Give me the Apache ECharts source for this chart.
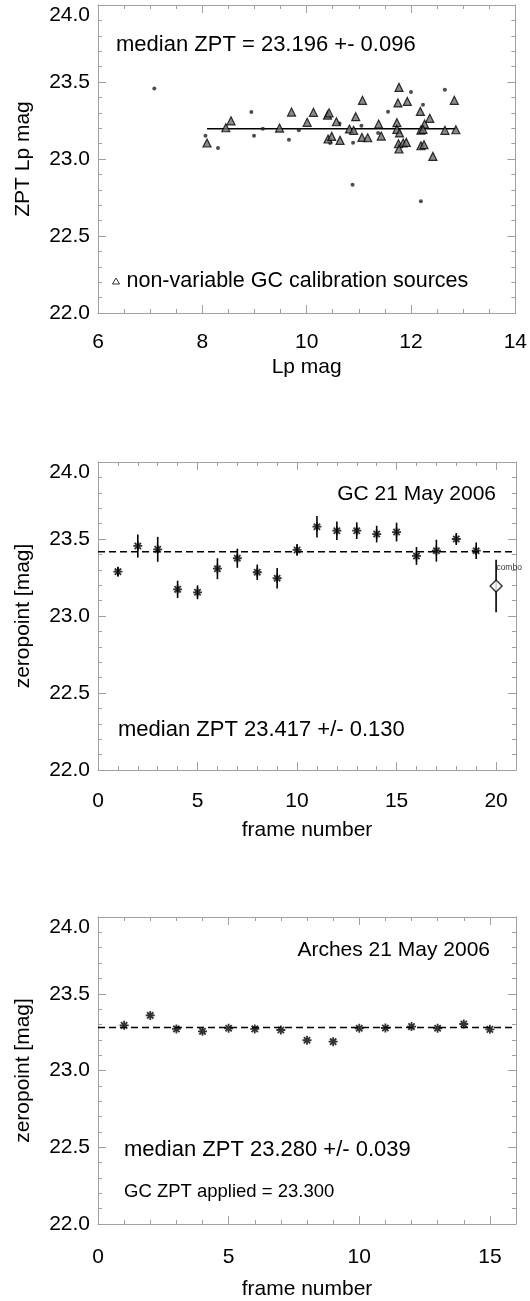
<!DOCTYPE html>
<html>
<head>
<meta charset="utf-8">
<script src="https://cdn.jsdelivr.net/npm/echarts@6/dist/echarts.min.js"></script>
<style>
  html, body { margin: 0; padding: 0; background: #fff; }
  #chart { width: 530px; height: 1301px; }
</style>
</head>
<body>
<div id="chart"></div>
<script>
// ---- Panel 1: zeropoint against Lp magnitude ----
const lpAllSources = [
  [7.08, 23.457], [8.06, 23.151], [8.30, 23.071], [8.94, 23.305], [8.99, 23.151],
  [9.16, 23.197], [9.66, 23.125], [9.85, 23.186], [10.45, 23.104], [10.63, 23.231],
  [10.89, 23.106], [10.88, 22.833], [11.05, 23.216], [11.37, 23.169], [11.56, 23.307],
  [12.00, 23.435], [12.23, 23.352], [12.65, 23.450], [12.19, 22.725]
];
const lpCalibSources = [
  [8.09, 23.104], [8.45, 23.203], [8.55, 23.248], [9.48, 23.201], [9.71, 23.305],
  [10.01, 23.238], [10.13, 23.303], [10.40, 23.285], [10.43, 23.300], [10.41, 23.130],
  [10.48, 23.147], [10.57, 23.242], [10.64, 23.121], [10.82, 23.195], [10.90, 23.186],
  [10.94, 23.275], [11.06, 23.140], [11.07, 23.381], [11.17, 23.138], [11.38, 23.227],
  [11.43, 23.149], [11.73, 23.236], [11.75, 23.364], [11.77, 23.465], [11.93, 23.374],
  [11.73, 23.192], [11.78, 23.169], [11.76, 23.099], [11.85, 23.104], [11.91, 23.108],
  [11.77, 23.065], [12.18, 23.309], [12.36, 23.264], [12.26, 23.227], [12.19, 23.188],
  [12.23, 23.192], [12.19, 23.086], [12.25, 23.093], [12.42, 23.017], [12.65, 23.186],
  [12.83, 23.381], [12.86, 23.190]
];
const lpMedianRange = [8.09, 12.86];
const lpMedianZpt = 23.196;

// ---- Panel 2: GC frames, 21 May 2006 ----
const gcFrames = [1, 2, 3, 4, 5, 6, 7, 8, 9, 10, 11, 12, 13, 14, 15, 16, 17, 18, 19];
const gcZpt = [23.288, 23.455, 23.433, 23.173, 23.154, 23.307, 23.375, 23.284, 23.245, 23.429,
               23.580, 23.554, 23.554, 23.532, 23.545, 23.390, 23.424, 23.500, 23.424];
const gcErr = [0.032, 0.075, 0.081, 0.056, 0.045, 0.068, 0.062, 0.050, 0.067, 0.038,
               0.070, 0.060, 0.054, 0.054, 0.061, 0.058, 0.071, 0.039, 0.054];
const comboFrame = [20];
const comboZpt = [23.195];
const comboErr = [0.170];
const gcMedianZpt = 23.417;

// ---- Panel 3: Arches frames, 21 May 2006 ----
const archesFrames = [1, 2, 3, 4, 5, 6, 7, 8, 9, 10, 11, 12, 13, 14, 15];
const archesZpt = [23.294, 23.359, 23.271, 23.255, 23.275, 23.271, 23.264, 23.197, 23.188,
                   23.275, 23.277, 23.286, 23.275, 23.303, 23.268];
const archesMedianZpt = 23.280;

// ---- axis tick settings ----
const lpTicks = { min: 6, max: 14, major: 2, minor: 0.5 };
const gcTicks = { min: 0, max: 21, major: 5, minor: 1 };
const archesTicks = { min: 0, max: 16, major: 5, minor: 1 };
const zptTicks = { min: 22, max: 24, major: 0.5, minorSplit: 5 };

const FONT = '"Liberation Sans", Arial, Helvetica, sans-serif';
const FRAME = '#a0a0a0';
const GRID_LEFT = 98, GRID_RIGHT = 14, GRID_H = 308;
const gridTops = [5, 462, 917];
const labelMargins = [19, 21, 23];
const titleGaps = [44, 50, 55];

const textStyle = { color: '#000', fontFamily: FONT, fontSize: 21 };

// Four x axes per panel: labelled bottom, plain top, and two minor-tick axes.
function makeXAxes(g, t, name) {
  const base = {
    type: 'value', gridIndex: g, min: t.min, max: t.max,
    splitLine: { show: false }, axisPointer: { show: false }
  };
  const line = { show: true, onZero: false, lineStyle: { color: FRAME, width: 1 } };
  const hidden = { show: false, onZero: false };
  return [
    Object.assign({}, base, {
      position: 'bottom', interval: t.major,
      name: name, nameLocation: 'middle', nameGap: titleGaps[g],
      nameTextStyle: textStyle,
      axisLine: line,
      axisTick: { inside: true, length: 8, lineStyle: { color: FRAME } },
      axisLabel: Object.assign({}, textStyle, {
        margin: labelMargins[g],
        formatter: v => (Math.abs(v / t.major - Math.round(v / t.major)) < 1e-6 ? String(v) : '')
      })
    }),
    Object.assign({}, base, {
      position: 'top', interval: t.major,
      axisLine: line,
      axisTick: { inside: true, length: 8, lineStyle: { color: FRAME } },
      axisLabel: { show: false }
    }),
    Object.assign({}, base, {
      position: 'bottom', interval: t.minor,
      axisLine: hidden,
      axisTick: { inside: true, length: 4, lineStyle: { color: FRAME } },
      axisLabel: { show: false }
    }),
    Object.assign({}, base, {
      position: 'top', interval: t.minor,
      axisLine: hidden,
      axisTick: { inside: true, length: 4, lineStyle: { color: FRAME } },
      axisLabel: { show: false }
    })
  ];
}

function makeYAxes(g, name) {
  const base = {
    type: 'value', gridIndex: g, min: zptTicks.min, max: zptTicks.max, interval: zptTicks.major,
    splitLine: { show: false },
    axisLine: { show: true, onZero: false, lineStyle: { color: FRAME, width: 1 } },
    axisTick: { inside: true, length: 8, lineStyle: { color: FRAME } },
    minorTick: { show: true, splitNumber: zptTicks.minorSplit, length: 4, lineStyle: { color: FRAME } }
  };
  return [
    Object.assign({}, base, {
      position: 'left',
      name: name, nameLocation: 'middle', nameGap: 64, nameRotate: 90,
      nameTextStyle: textStyle,
      axisLabel: Object.assign({}, textStyle, {
        margin: 8,
        formatter: v => v.toFixed(1),
        verticalAlignMaxLabel: 'top'
      })
    }),
    Object.assign({}, base, { position: 'right', axisLabel: { show: false } })
  ];
}

// asterisk marker, stroked
const STAR = 'path://M0,5L10,5M5,0L5,10M1.5,1.5L8.5,8.5M1.5,8.5L8.5,1.5';

function errorBars(g, xs, ys, es) {
  return {
    type: 'custom', xAxisIndex: g * 4, yAxisIndex: g * 2, silent: true, z: 2,
    data: xs.map((x, i) => [x, ys[i] - es[i], ys[i] + es[i]]),
    encode: { x: 0, y: [1, 2] },
    renderItem: function (params, api) {
      const lo = api.coord([api.value(0), api.value(1)]);
      const hi = api.coord([api.value(0), api.value(2)]);
      return {
        type: 'line',
        shape: { x1: lo[0], y1: lo[1], x2: hi[0], y2: hi[1] },
        style: { stroke: '#000', lineWidth: 1.6 }
      };
    }
  };
}

function starSeries(g, xs, ys) {
  return {
    type: 'scatter', xAxisIndex: g * 4, yAxisIndex: g * 2, silent: true, z: 3,
    symbol: STAR, symbolSize: 9,
    itemStyle: { color: '#000', borderColor: '#000', borderWidth: 1.8 },
    data: xs.map((x, i) => [x, ys[i]])
  };
}

function medianLine(g, x0, x1, y, dashed) {
  return {
    type: 'line', xAxisIndex: g * 4, yAxisIndex: g * 2, silent: true, z: 1,
    symbol: 'none',
    lineStyle: { color: '#000', width: 1.5, type: dashed ? [7, 4] : 'solid' },
    data: [[x0, y], [x1, y]]
  };
}

function note(x, y, text, size, align) {
  return {
    type: 'text', x: x, y: y,
    style: { text: text, font: size + 'px ' + FONT, fill: '#000', align: align || 'left', verticalAlign: 'middle' }
  };
}

const calibName = 'non-variable GC calibration sources';

const option = {
  backgroundColor: '#fff',
  animation: false,
  textStyle: { fontFamily: FONT },
  grid: gridTops.map(t => ({ left: GRID_LEFT, right: GRID_RIGHT, top: t, height: GRID_H, containLabel: false })),
  xAxis: [].concat(
    makeXAxes(0, lpTicks, 'Lp mag'),
    makeXAxes(1, gcTicks, 'frame number'),
    makeXAxes(2, archesTicks, 'frame number')
  ),
  yAxis: [].concat(
    makeYAxes(0, 'ZPT Lp mag'),
    makeYAxes(1, 'zeropoint [mag]'),
    makeYAxes(2, 'zeropoint [mag]')
  ),
  legend: {
    selectedMode: false,
    left: 112, top: 270, padding: 0,
    itemWidth: 7, itemHeight: 6,
    textStyle: Object.assign({}, textStyle, { fontSize: 21.5, padding: [0, 0, 0, 2] }),
    data: [{ name: calibName, icon: 'triangle', itemStyle: { color: '#fff', borderColor: '#000', borderWidth: 1 } }]
  },
  series: [
    // panel 1
    medianLine(0, lpMedianRange[0], lpMedianRange[1], lpMedianZpt, false),
    {
      type: 'scatter', xAxisIndex: 0, yAxisIndex: 0, silent: true, z: 3,
      symbol: 'circle', symbolSize: 4,
      itemStyle: { color: '#222' },
      data: lpAllSources
    },
    {
      name: calibName,
      type: 'scatter', xAxisIndex: 0, yAxisIndex: 0, silent: true, z: 4,
      symbol: 'triangle', symbolSize: 8,
      itemStyle: { color: '#6e6e6e', borderColor: '#000', borderWidth: 1.2 },
      data: lpCalibSources
    },
    // panel 2
    medianLine(1, gcTicks.min, gcTicks.max, gcMedianZpt, true),
    errorBars(1, gcFrames, gcZpt, gcErr),
    starSeries(1, gcFrames, gcZpt),
    errorBars(1, comboFrame, comboZpt, comboErr),
    {
      type: 'scatter', xAxisIndex: 4, yAxisIndex: 2, silent: true, z: 5,
      symbol: 'diamond', symbolSize: 12,
      itemStyle: { color: '#fff', borderColor: '#000', borderWidth: 1.4 },
      label: {
        show: true, formatter: 'combo', position: [7, -12],
        align: 'left', verticalAlign: 'middle',
        fontFamily: FONT, fontSize: 8.5, color: '#000'
      },
      data: comboFrame.map((x, i) => [x, comboZpt[i]])
    },
    // panel 3
    medianLine(2, archesTicks.min, archesTicks.max, archesMedianZpt, true),
    starSeries(2, archesFrames, archesZpt)
  ],
  graphic: [
    note(116, 45, 'median ZPT = 23.196 +- 0.096', 22),
    note(496, 494, 'GC 21 May 2006', 21, 'right'),
    note(118, 730, 'median ZPT 23.417 +/- 0.130', 22),
    note(490, 950, 'Arches 21 May 2006', 21, 'right'),
    note(124, 1150, 'median ZPT 23.280 +/- 0.039', 22),
    note(124, 1192, 'GC ZPT applied = 23.300', 18.5)
  ]
};

const chart = echarts.init(document.getElementById('chart'), null, { renderer: 'canvas' });
chart.setOption(option);
</script>
</body>
</html>
